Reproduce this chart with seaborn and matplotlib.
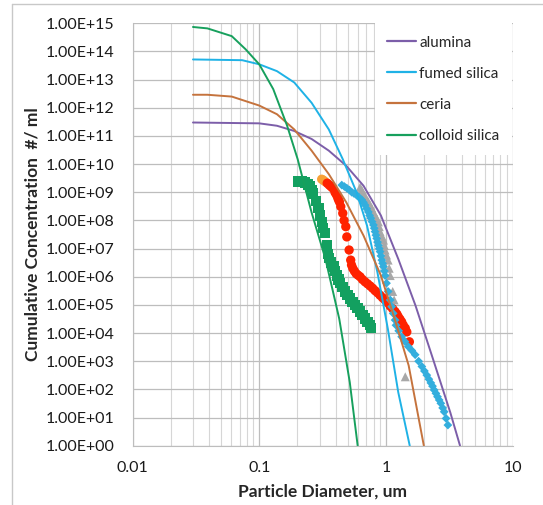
import numpy as np
import pandas as pd
import matplotlib
matplotlib.use("Agg")
import matplotlib.pyplot as plt
import seaborn as sns
from matplotlib.ticker import FuncFormatter, LogLocator, NullLocator
from matplotlib.lines import Line2D

# model curves (cumulative concentration vs diameter)
alumina_d = [0.03, 0.1, 0.138, 0.189, 0.259, 0.354, 0.486, 0.665, 0.912, 1.25, 1.71, 2.35, 3.22, 3.84]
alumina_c = [3.0e11, 2.8e11, 2.3e11, 1.5e11, 7.8e10, 3.0e10, 8.7e9, 1.7e9, 1.5e8, 4.3e6, 9.5e4, 1.2e3, 15, 1.0]

fumed_d = [0.03, 0.0733, 0.1, 0.138, 0.189, 0.259, 0.354, 0.456, 0.587, 0.709, 0.857, 1.035, 1.25, 1.54]
fumed_c = [5.2e13, 4.9e13, 3.5e13, 2.0e13, 7.9e12, 1.5e12, 1.7e11, 1.5e10, 9.8e8, 6.5e7, 1.4e6, 1.4e4, 79, 1.0]

ceria_d = [0.03, 0.039, 0.0607, 0.1, 0.138, 0.189, 0.259, 0.354, 0.486, 0.665, 0.912, 1.17, 1.51, 1.99]
ceria_c = [2.9e12, 2.9e12, 2.5e12, 1.2e12, 5.9e11, 1.7e11, 3.0e10, 4.4e9, 4.4e8, 2.9e7, 1.1e6, 3.2e4, 710, 1.0]

colloid_d = [0.03, 0.039, 0.0607, 0.078, 0.1, 0.129, 0.166, 0.201, 0.259, 0.333, 0.428, 0.518, 0.598]
colloid_c = [7.4e14, 6.6e14, 3.5e14, 1.2e14, 3.5e13, 4.6e12, 2.3e11, 1.5e10, 1.9e8, 4.3e6, 3.2e4, 180, 1.0]

# measured points
sq_d = [0.204, 0.215, 0.230, 0.242, 0.252, 0.260, 0.267, 0.280, 0.293, 0.303, 0.311, 0.320, 0.330,
        0.341, 0.350, 0.357, 0.370, 0.385, 0.397, 0.409, 0.422, 0.435, 0.455, 0.475, 0.498, 0.521,
        0.545, 0.570, 0.597, 0.625, 0.654, 0.684, 0.716, 0.750, 0.759]
sq_c = [2.4e9, 2.4e9, 2.2e9, 1.9e9, 1.6e9, 1.2e9, 9.1e8, 5.0e8, 2.7e8, 1.5e8, 8.9e7, 5.5e7, 3.5e7,
        1.3e7, 6.5e6, 4.5e6, 3.2e6, 2.3e6, 1.6e6, 1.1e6, 8.0e5, 5.9e5, 4.2e5, 3.0e5, 2.3e5, 1.7e5,
        1.3e5, 1.0e5, 7.6e4, 5.8e4, 4.4e4, 3.3e4, 2.5e4, 1.9e4, 1.5e4]

orange_d = [0.311, 0.320, 0.330]
orange_c = [2.9e9, 2.7e9, 2.4e9]

red_d = [0.344, 0.357, 0.368, 0.380, 0.396, 0.405, 0.414, 0.421, 0.429, 0.440, 0.456, 0.467, 0.482,
         0.491, 0.512, 0.527, 0.535, 0.547, 0.563, 0.581, 0.600, 0.625, 0.652, 0.684, 0.716, 0.750,
         0.785, 0.821, 0.858, 0.898, 0.940, 0.984, 1.03, 1.08, 1.13, 1.18, 1.22, 1.25, 1.29, 1.33,
         1.37, 1.42, 1.46, 1.53]
red_c = [2.1e9, 1.8e9, 1.6e9, 1.4e9, 1.0e9, 8.5e8, 6.9e8, 5.6e8, 4.6e8, 3.1e8, 1.8e8, 1.0e8, 6.0e7,
         2.6e7, 8.9e6, 3.9e6, 2.6e6, 2.0e6, 1.6e6, 1.3e6, 1.15e6, 1.0e6, 8.0e5, 6.6e5, 5.6e5, 4.7e5,
         3.9e5, 3.2e5, 2.7e5, 2.2e5, 1.8e5, 1.5e5, 1.2e5, 9.1e4, 7.3e4, 5.8e4, 4.7e4, 3.8e4, 3.1e4,
         2.5e4, 1.9e4, 1.5e4, 1.1e4, 4.9e3]

dia_d = [0.448, 0.470, 0.491, 0.515, 0.537, 0.560, 0.587, 0.615, 0.644, 0.664, 0.684, 0.705, 0.726,
         0.743, 0.759, 0.777, 0.796, 0.808, 0.820, 0.833, 0.845, 0.858, 0.871, 0.885, 0.898, 0.912,
         0.927, 0.941, 0.955, 0.970, 0.984, 1.01, 1.04, 1.08, 1.11, 1.14, 1.18, 1.20, 1.26, 1.33,
         1.41, 1.50, 1.60, 1.70, 1.81, 1.92, 2.01, 2.10, 2.18, 2.26, 2.33, 2.40, 2.48, 2.55, 2.63,
         2.71, 2.80, 2.88, 2.98, 3.08]
dia_c = [1.8e9, 1.6e9, 1.4e9, 1.2e9, 1.0e9, 9.0e8, 7.9e8, 6.5e8, 5.4e8, 4.4e8, 3.5e8, 2.6e8, 2.0e8,
         1.5e8, 1.2e8, 9.0e7, 6.9e7, 5.3e7, 4.0e7, 3.0e7, 2.3e7, 1.7e7, 1.3e7, 1.0e7, 7.8e6, 5.5e6,
         3.9e6, 3.0e6, 2.3e6, 1.6e6, 1.1e6, 5.9e5, 3.0e5, 1.5e5, 8.7e4, 5.0e4, 2.9e4, 1.9e4, 1.2e4,
         7.4e3, 5.0e3, 3.3e3, 2.4e3, 1.7e3, 1.0e3, 650, 450, 320, 230, 170, 130, 95, 72, 55, 42,
         32, 22, 16, 9.3, 5.4]

tri_d = [0.625, 0.644, 0.664, 0.684, 0.705, 0.726, 0.750, 0.773, 0.796, 0.820, 0.845, 0.871, 0.885,
         0.898, 0.927, 0.955, 0.970, 0.984, 1.01, 1.04, 1.06, 1.08, 1.13, 1.16, 1.42]
tri_c = [1.5e9, 1.2e9, 9.0e8, 6.9e8, 5.6e8, 4.6e8, 3.5e8, 2.7e8, 2.0e8, 1.5e8, 1.2e8, 8.9e7, 6.0e7,
         4.0e7, 2.8e7, 2.0e7, 1.3e7, 8.9e6, 5.9e6, 3.9e6, 2.0e6, 1.1e6, 3.0e5, 1.5e5, 280]

curve_names = ["alumina", "fumed silica", "ceria", "colloid silica"]
curve_colors = ["#7C5EA9", "#1FB2E6", "#C5733D", "#17A05D"]

sns.set_style("white")
plt.rcParams["font.family"] = ["Lato", "DejaVu Sans"]

fig = plt.figure(figsize=(5.43, 5.05), dpi=100)
ax = fig.add_axes([132.5 / 543, 1 - 445.7 / 505, 380.2 / 543, 422.4 / 505])

curves = [(alumina_d, alumina_c), (fumed_d, fumed_c), (ceria_d, ceria_c), (colloid_d, colloid_c)]
for (d, c), name, col in zip(curves, curve_names, curve_colors):
    sns.lineplot(x=d, y=c, ax=ax, color=col, lw=1.4, label=name, sort=False, legend=False)

sns.scatterplot(x=sq_d, y=sq_c, ax=ax, marker="s", s=55, color="#13A060", edgecolor="none", legend=False)
sns.scatterplot(x=orange_d, y=orange_c, ax=ax, marker="o", s=45, color="#F7A035", edgecolor="none", legend=False)
sns.scatterplot(x=red_d, y=red_c, ax=ax, marker="o", s=45, color="#FF2200", edgecolor="none", legend=False)
sns.scatterplot(x=tri_d, y=tri_c, ax=ax, marker="^", s=42, color="#A8A8A8", edgecolor="none", legend=False)
sns.scatterplot(x=dia_d, y=dia_c, ax=ax, marker="D", s=20, color="#33AEDD", edgecolor="none", legend=False)

ax.set_xscale("log")
ax.set_yscale("log")
ax.set_xlim(0.01, 10)
ax.set_ylim(1, 1e15)
ax.yaxis.set_major_locator(LogLocator(base=10, numticks=20))
ax.yaxis.set_minor_locator(NullLocator())
ax.xaxis.set_minor_locator(LogLocator(base=10, subs=np.arange(2, 10), numticks=20))
ax.yaxis.set_major_formatter(FuncFormatter(lambda v, p: f"{v:.2E}"))
ax.xaxis.set_major_formatter(FuncFormatter(lambda v, p: f"{v:g}"))

ax.grid(which="major", color="#BDBDBD", lw=0.9)
ax.grid(which="minor", axis="x", color="#D6D6D6", lw=0.8)
ax.set_axisbelow(True)
for side in ["top", "right"]:
    ax.spines[side].set_visible(False)
for side in ["left", "bottom"]:
    ax.spines[side].set_color("#BDBDBD")
ax.tick_params(which="major", length=6, color="#BDBDBD", labelsize=11.5, labelcolor="#1A1A1A")
ax.tick_params(which="minor", length=0)
ax.tick_params(axis="x", pad=5)
ax.tick_params(axis="y", pad=7)

ax.set_xlabel("Particle Diameter, um", fontsize=12.5, fontweight="bold", labelpad=6)
ax.set_ylabel("Cumulative Concentration  #/ ml", fontsize=12.5, fontweight="bold", labelpad=4)

handles = [Line2D([], [], color=c, lw=1.6) for c in curve_colors]
leg = ax.legend(handles, curve_names, loc="upper right", bbox_to_anchor=(0.998, 1.0),
                borderaxespad=0, frameon=True, facecolor="white", edgecolor="none", framealpha=1,
                fontsize=11, handlelength=1.9, handletextpad=0.2, labelspacing=1.12,
                borderpad=0.8, fancybox=False)

# outer chart border like the spreadsheet frame
fig.add_artist(Line2D([11.5 / 543, 1], [1 - 4 / 505, 1 - 4 / 505], color="#C8C8C8", lw=1))
fig.add_artist(Line2D([11.5 / 543, 11.5 / 543], [0, 1 - 4 / 505], color="#C8C8C8", lw=1))

fig.savefig("out.png", dpi=100)
